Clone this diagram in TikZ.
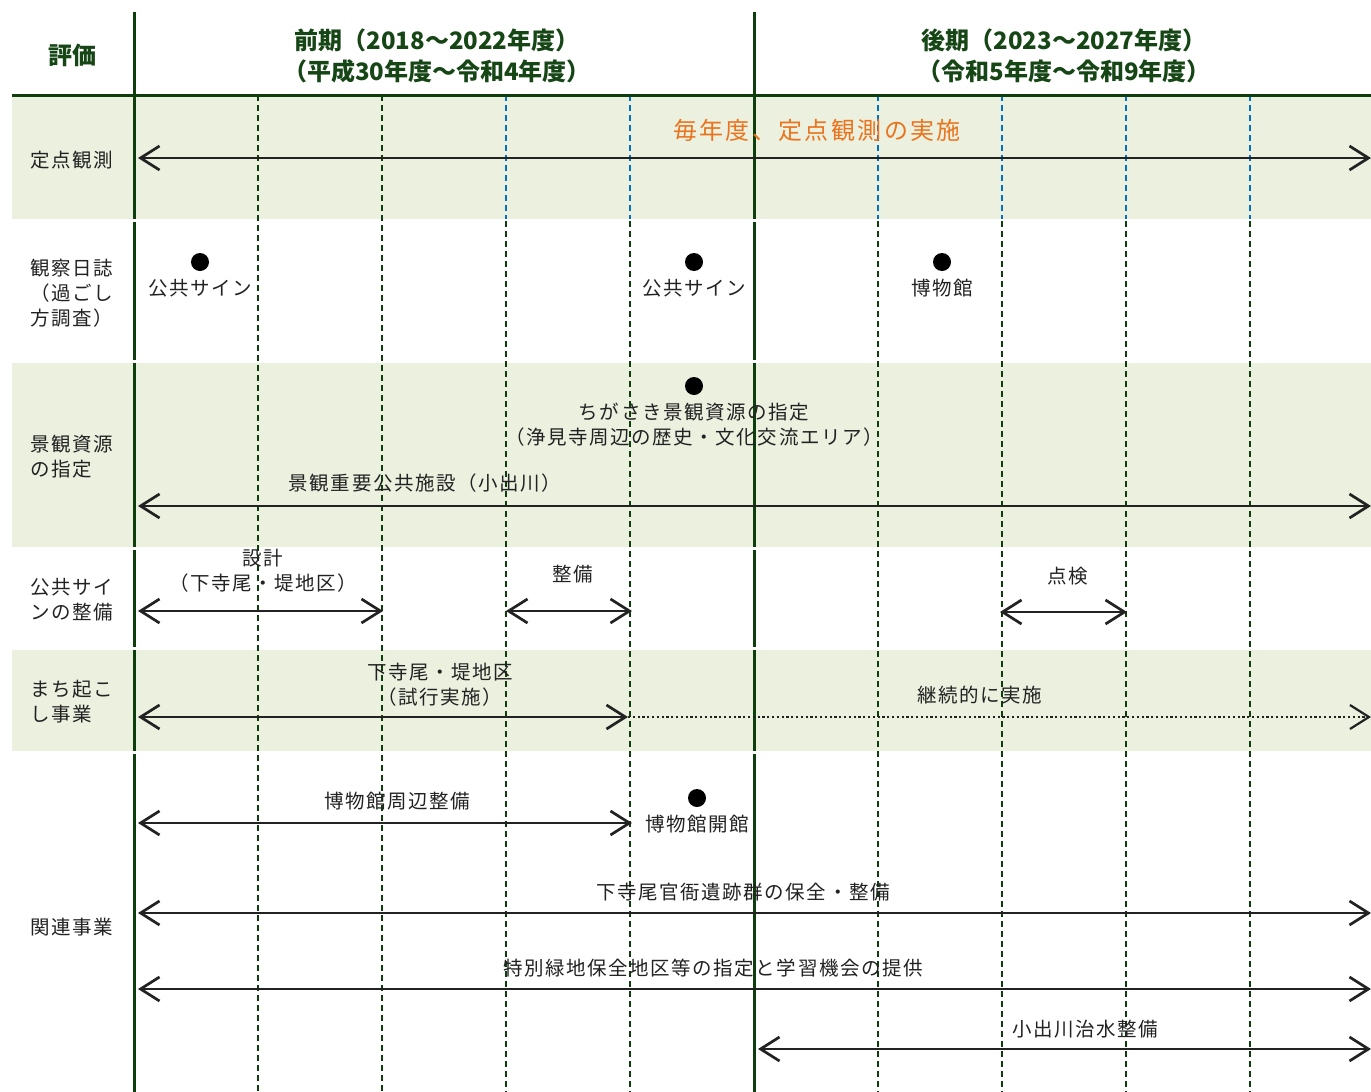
\documentclass[tikz,border=0pt]{standalone}
\usepackage{fontspec}
\setmainfont{Noto Sans CJK JP}
\usetikzlibrary{arrows.meta,positioning}
\definecolor{band}{RGB}{235,240,223}
\definecolor{frame}{RGB}{14,62,14}
\definecolor{hdr}{RGB}{22,70,22}
\definecolor{gridblue}{RGB}{0,112,192}
\definecolor{note}{RGB}{234,116,30}
\definecolor{ink}{RGB}{34,34,34}

\tikzset{
  span/.style={line width=2.7pt, ink, {Straight Barb[length=19pt,width=24pt]}-{Straight Barb[length=19pt,width=24pt]}},
  onward/.style={line width=2.2pt, ink, dash pattern=on 2.2pt off 2.6pt, -{Straight Barb[length=19pt,width=24pt]}},
  lbl/.style={font=\fontsize{19.5}{25}\selectfont\addfontfeature{LetterSpace=8}, text=ink, inner sep=0pt, align=center},
  rowlbl/.style={lbl, align=left, anchor=west},
  head/.style={font=\fontsize{24}{31}\selectfont\bfseries, text=hdr, inner sep=0pt, align=center},
  dot/.style={circle, fill=black, minimum size=18pt, inner sep=0pt},
  yearline/.style={frame, line width=1.1pt, dash pattern=on 6pt off 4pt},
}

\begin{document}
\begin{tikzpicture}[x=1pt, y=-1pt]
  \useasboundingbox (0,0) rectangle (1371,1092);

  % shaded rows
  \foreach \t/\b in {97/219, 363/547, 650/751}
    \fill[band] (12,\t) rectangle (1371,\b);

  % year grid
  \foreach \x in {258,382}
    \draw[yearline] (\x,95) -- (\x,1092);
  \foreach \x in {506,630,878,1002,1126,1250} {
    \draw[yearline, gridblue] (\x,95) -- (\x,219);
    \draw[yearline] (\x,221) -- (\x,1092);
  }

  % frame
  \draw[frame, line width=3pt] (12,95) -- (1371,95);
  \foreach \t/\b in {12/219, 222/360, 363/547, 550/647, 650/751, 754/1092} {
    \draw[frame, line width=3pt] (134,\t) -- (134,\b);
    \draw[frame, line width=3pt] (754,\t) -- (754,\b);
  }

  % header
  \node[head] (h_eval) at (72,55) {評価};
  \node[head] (h_first) at (437,56) {前期（2018～2022年度）\\（平成30年度～令和4年度）};
  \node[head] (h_second) at (1064,56) {後期（2023～2027年度）\\（令和5年度～令和9年度）};

  % row labels
  \node[rowlbl] (r_fixed) at (30,160) {定点観測};
  \node[rowlbl] (r_diary) at (30,293) {観察日誌\\（過ごし\\方調査）};
  \node[rowlbl] (r_res) at (30,457) {景観資源\\の指定};
  \node[rowlbl] (r_sign) at (30,600) {公共サイ\\ンの整備};
  \node[rowlbl] (r_town) at (30,702) {まち起こ\\し事業};
  \node[rowlbl] (r_rel) at (30,927) {関連事業};

  % 定点観測
  \coordinate (fix_l) at (138,158);
  \coordinate (fix_r) at (1371,158);
  \draw[span] (fix_l) -- (fix_r);
  \node[lbl, font=\fontsize{24}{28}\selectfont\addfontfeature{LetterSpace=10}, text=note] (fix_t) at (817,130) {毎年度、定点観測の実施};

  % 観察日誌
  \node[dot] (d_sign1) at (200,262) {};
  \node[lbl] (t_sign1) at (200,288) {公共サイン};
  \node[dot] (d_sign2) at (694,262) {};
  \node[lbl] (t_sign2) at (694,288) {公共サイン};
  \node[dot] (d_mus) at (942,262) {};
  \node[lbl] (t_mus) at (942,288) {博物館};

  % 景観資源の指定
  \node[dot] (d_res) at (694,386) {};
  \node[lbl] (t_res) at (694,425) {ちがさき景観資源の指定\\（浄見寺周辺の歴史・文化交流エリア）};
  \coordinate (res_l) at (138,506);
  \coordinate (res_r) at (1371,506);
  \draw[span] (res_l) -- (res_r);
  \node[lbl] (t_river) at (425,483) {景観重要公共施設（小出川）};

  % 公共サインの整備
  \coordinate (des_l) at (138,611);
  \coordinate (des_r) at (383,611);
  \draw[span] (des_l) -- (des_r);
  \node[lbl] (t_des) at (263,571) {設計\\（下寺尾・堤地区）};
  \coordinate (bld_l) at (506,611);
  \coordinate (bld_r) at (632,611);
  \draw[span] (bld_l) -- (bld_r);
  \node[lbl] (t_bld) at (573,574) {整備};
  \coordinate (chk_l) at (1000,612);
  \coordinate (chk_r) at (1127,612);
  \draw[span] (chk_l) -- (chk_r);
  \node[lbl] (t_chk) at (1068,576) {点検};

  % まち起こし事業
  \coordinate (trial_l) at (138,717);
  \coordinate (trial_r) at (628,717);
  \coordinate (cont_r) at (1371,717);
  \draw[span] (trial_l) -- (trial_r);
  \draw[onward] (trial_r) -- (cont_r);
  \node[lbl] (t_trial) at (440,685) {下寺尾・堤地区\\（試行実施）};
  \node[lbl] (t_cont) at (980,695) {継続的に実施};

  % 関連事業
  \coordinate (env_l) at (138,823);
  \coordinate (env_r) at (632,823);
  \draw[span] (env_l) -- (env_r);
  \node[lbl] (t_env) at (397,801) {博物館周辺整備};
  \node[dot] (d_open) at (697,798) {};
  \node[lbl] (t_open) at (697,824) {博物館開館};
  \coordinate (ruin_l) at (138,913);
  \coordinate (ruin_r) at (1371,913);
  \draw[span] (ruin_l) -- (ruin_r);
  \node[lbl] (t_ruin) at (743,892) {下寺尾官衙遺跡群の保全・整備};
  \coordinate (green_l) at (138,989);
  \coordinate (green_r) at (1371,989);
  \draw[span] (green_l) -- (green_r);
  \node[lbl] (t_green) at (713,968) {特別緑地保全地区等の指定と学習機会の提供};
  \coordinate (flood_l) at (758,1049);
  \coordinate (flood_r) at (1371,1049);
  \draw[span] (flood_l) -- (flood_r);
  \node[lbl] (t_flood) at (1085,1029) {小出川治水整備};
\end{tikzpicture}
\end{document}
